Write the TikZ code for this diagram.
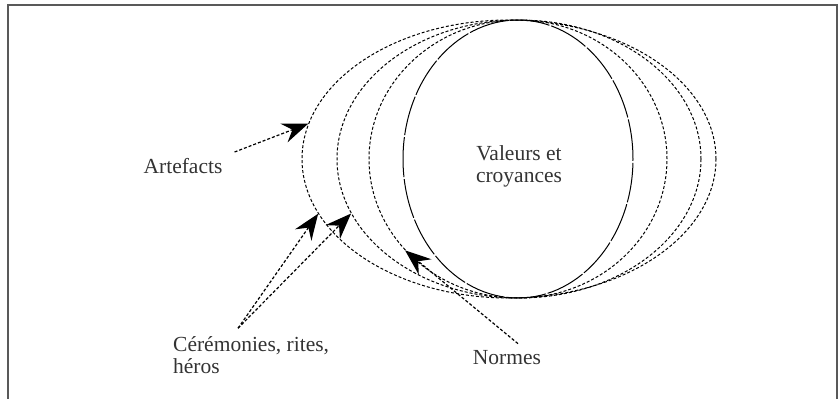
\documentclass[tikz,border=0pt]{standalone}
\usepackage{fontspec}
\setmainfont{Liberation Serif}
\usetikzlibrary{calc,shapes,arrows.meta}

\begin{document}
\begin{tikzpicture}[x=1pt,y=-1pt,
    couche/.style={draw,ellipse,inner sep=0pt,line width=1pt,dash pattern=on 3pt off 2pt},
    etiq/.style={font=\fontsize{21.5}{22}\selectfont,text=black!80,inner sep=0pt},
    fleche/.style={line width=1.2pt,dash pattern=on 3pt off 2pt,
      -{Stealth[length=26pt,width=20pt,inset=9pt]}}]
        \useasboundingbox (0,0) rectangle (839,399);
        \draw[line width=2pt,black!65] (8,399) |- (837,5) -- (837,399);
        \node[couche,minimum width=414,minimum height=278] (e1) at (509,159) {};
        \node[couche,minimum width=364,minimum height=278] (e2) at (519,159) {};
        \node[couche,minimum width=298,minimum height=278] (e3) at (518,159) {};
        \node[couche,dash pattern=on 40pt off 2pt,minimum width=230,minimum height=278] (e4) at (518,159) {};
        \node[etiq,align=center] (val) at (519,166) {Valeurs et\\croyances};
        \node[etiq] (art) at (183,166) {Artefacts};
        \node[etiq,align=left,anchor=west] (cer) at (173,355) {Cérémonies, rites,\\héros};
        \node[etiq] (nrm) at (507,358) {Normes};
        \coordinate (artq) at ($(art.east)+(12,-14)$);
        \coordinate (cerq) at ($(cer.north west)+(65,-8)$);
        \coordinate (nrmq) at ($(nrm.north)+(11,-7)$);
        \draw[fleche] (artq) -- (e1.170);
        \draw[fleche] (cerq) -- (e1.196);
        \draw[fleche] (cerq) -- (e2.198);
        \draw[fleche] (nrmq) -- (e3.219);
      \end{tikzpicture}
\end{document}
